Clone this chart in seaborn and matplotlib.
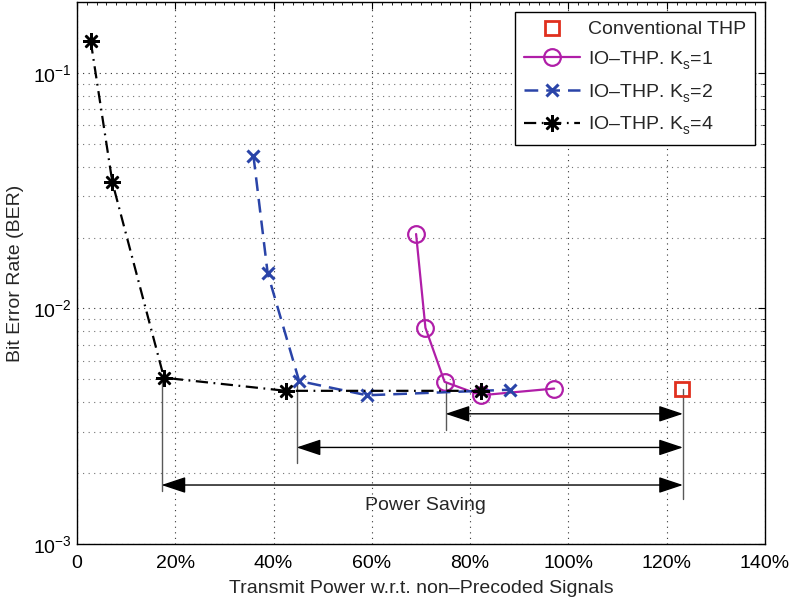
import matplotlib
matplotlib.use("Agg")
import matplotlib.pyplot as plt
import matplotlib.ticker as mticker
import numpy as np
import pandas as pd
import seaborn as sns

# ---------------- data ----------------
k1_power = [69.0, 70.9, 74.8, 82.2, 97.1]
k1_ber = [0.0207, 0.00828, 0.00488, 0.00428, 0.00457]

k2_power = [35.9, 38.8, 45.2, 59.0, 88.2]
k2_ber = [0.0445, 0.0141, 0.00492, 0.00428, 0.00452]

k4_power = [2.8, 7.2, 17.7, 42.5, 82.2]
k4_ber = [0.136, 0.0343, 0.00508, 0.00447, 0.00447]

conv_power = [123.1]
conv_ber = [0.00457]

# annotation: power-saving reference lines and arrows
ref_x = [17.2, 44.7, 75.0]
ref_top = [0.00508, 0.00480, 0.00488]
ref_bottom = [0.00168, 0.00220, 0.00304]
arrow_y = [0.00178, 0.00257, 0.00357]
conv_line_x = 123.3
conv_line_bottom = 0.00156
saving_text = "Power Saving"
saving_pos = (70.9, 0.00146)

x_ticks = [0, 20, 40, 60, 80, 100, 120, 140]
x_ticklabels = ["0", "20%", "40%", "60%", "80%", "100%", "120%", "140%"]

labels = ["Conventional THP", "IO\u2013THP. K$_{\\mathrm{s}}^{\\,}$=1",
          "IO\u2013THP. K$_{\\mathrm{s}}^{\\,}$=2", "IO\u2013THP. K$_{\\mathrm{s}}^{\\,}$=4"]

# ---------------- style ----------------
sns.set_theme(style="white")
plt.rcParams["font.family"] = ["Liberation Sans", "DejaVu Sans"]
plt.rcParams["mathtext.fontset"] = "custom"
plt.rcParams["mathtext.rm"] = "Liberation Sans"
plt.rcParams["mathtext.it"] = "Liberation Sans:italic"
plt.rcParams["mathtext.default"] = "regular"
plt.rcParams["axes.unicode_minus"] = False

fig = plt.figure(figsize=(7.93, 6.04), dpi=100)
ax = fig.add_axes([77 / 793, 1 - 544 / 604, (765 - 77) / 793, (544 - 2) / 604])

magenta = "#B01EA8"
blue = "#2A44A8"
red = "#E0301E"

df4 = pd.DataFrame({"p": k4_power, "b": k4_ber})
df2 = pd.DataFrame({"p": k2_power, "b": k2_ber})
df1 = pd.DataFrame({"p": k1_power, "b": k1_ber})
dfc = pd.DataFrame({"p": conv_power, "b": conv_ber})

sns.lineplot(data=dfc, x="p", y="b", ax=ax, sort=False, estimator=None,
             color=red, linestyle="none", marker="s", markersize=10,
             mfc="none", mec=red, mew=2, label=labels[0])
sns.lineplot(data=df1, x="p", y="b", ax=ax, sort=False, estimator=None,
             color=magenta, linewidth=1.6, marker="o", markersize=12,
             mfc="none", mec=magenta, mew=1.6, label=labels[1])
sns.lineplot(data=df2, x="p", y="b", ax=ax, sort=False, estimator=None,
             color=blue, linewidth=1.8, marker="x", markersize=9,
             mec=blue, mew=2.2, label=labels[2])
l2 = ax.get_lines()[-1]
l2.set_dashes((5.5, 3.2))
sns.lineplot(data=df4, x="p", y="b", ax=ax, sort=False, estimator=None,
             color="black", linewidth=1.6, marker=(8, 2, 0), markersize=12,
             mec="black", mew=1.8, label=labels[3])
l4 = ax.get_lines()[-1]
l4.set_dashes((5.5, 2.5, 0.8, 2.5))

# annotations
lc = "0.35"
for x, yt, yb in zip(ref_x, ref_top, ref_bottom):
    ax.plot([x, x], [yt, yb], color=lc, lw=1.0, zorder=1)
ax.plot([conv_line_x, conv_line_x], [conv_ber[0], conv_line_bottom], color=lc, lw=1.0, zorder=1)
for x, y in zip(ref_x, arrow_y):
    ax.annotate("", xy=(x, y), xytext=(conv_line_x, y),
                arrowprops=dict(arrowstyle="<|-|>,head_length=15,head_width=5",
                                mutation_scale=1, color="black", lw=1.0,
                                shrinkA=0, shrinkB=0))
ax.text(saving_pos[0], saving_pos[1], saving_text, ha="center", va="center",
        fontsize=14)

# axes
ax.set_yscale("log")
ax.set_xlim(0, 140)
ax.set_ylim(1e-3, 0.2)
ax.set_xticks(x_ticks)
ax.set_xticklabels(x_ticklabels)
ax.xaxis.set_minor_locator(mticker.MultipleLocator(2))
ax.yaxis.set_major_locator(mticker.LogLocator(base=10, numticks=10))
ax.yaxis.set_minor_locator(mticker.LogLocator(base=10, subs=np.arange(2, 10), numticks=20))
ax.yaxis.set_minor_formatter(mticker.NullFormatter())
ax.tick_params(axis="both", which="both", direction="in", top=True, right=True,
               labelsize=14, colors="black")
ax.tick_params(which="major", length=5, width=0.8)
ax.tick_params(which="minor", length=2.5, width=0.6)
ax.tick_params(axis="x", pad=8)
ax.tick_params(axis="y", pad=4)
for s in ax.spines.values():
    s.set_color("black")
    s.set_linewidth(1.0)

ax.grid(True, which="major", axis="both", linestyle=(0, (1, 4)), color="0.2", linewidth=0.8)
ax.grid(True, which="minor", axis="y", linestyle=(0, (1, 4)), color="0.45", linewidth=0.8)

ax.set_xlabel("Transmit Power w.r.t. non\u2013Precoded Signals", fontsize=14, labelpad=6)
ax.set_ylabel("Bit Error Rate (BER)", fontsize=14, labelpad=6)

leg = ax.legend(loc="upper right", bbox_to_anchor=(0.9855, 0.9815), borderaxespad=0,
                fontsize=14, frameon=True, fancybox=False, framealpha=1,
                edgecolor="black", handlelength=2.9, handletextpad=0.4,
                labelspacing=0.55, borderpad=0.45)
leg.get_frame().set_linewidth(1.0)

fig.savefig("out.png", dpi=100)
